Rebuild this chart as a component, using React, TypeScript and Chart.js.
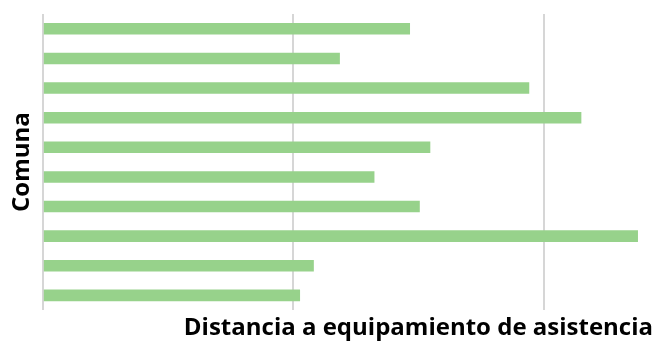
import React, { useEffect, useRef } from "react";
import { Chart, registerables } from "chart.js";

Chart.register(...registerables);

const categories = ["1", "2", "3", "4", "5", "6", "7", "8", "9", "10"];
const distances = [1.466, 1.186, 1.942, 2.15, 1.547, 1.324, 1.505, 2.376, 1.082, 1.027];
const xTitle = "Distancia a equipamiento de asistencia";
const yTitle = "Comuna";

export default function App() {
  const ref = useRef<HTMLCanvasElement>(null);
  useEffect(() => {
    document.body.style.margin = "0";
    const chart = new Chart(ref.current!, {
      type: "bar",
      data: {
        labels: categories,
        datasets: [
          {
            data: distances,
            backgroundColor: "#97d28b",
            borderWidth: 0,
            barPercentage: 0.39,
            categoryPercentage: 1,
          },
        ],
      },
      options: {
        indexAxis: "y",
        animation: false,
        responsive: false,
        maintainAspectRatio: false,
        layout: { padding: { left: 8, right: 2, top: 14, bottom: 0 } },
        plugins: { legend: { display: false }, tooltip: { enabled: false } },
        scales: {
          x: {
            min: 0,
            max: 2.436,
            ticks: { display: false, stepSize: 1 },
            grid: {
              color: (ctx: any) =>
                ctx.tick && Number.isInteger(ctx.tick.value) ? "#d6d6d6" : "rgba(0,0,0,0)",
              lineWidth: 2,
              drawTicks: false,
            },
            border: { display: false },
            title: {
              display: true,
              text: xTitle,
              align: "end",
              color: "#000",
              font: { family: "Open Sans", weight: "bold", size: 24 },
              padding: { top: 4, bottom: 0 },
            },
          },
          y: {
            ticks: { display: false },
            grid: { display: false, drawTicks: false },
            border: { display: false },
            title: {
              display: true,
              text: yTitle,
              color: "#000",
              font: { family: "Open Sans", weight: "bold", size: 24 },
              padding: { top: 0, bottom: 6 },
            },
          },
        },
      },
    });
    return () => chart.destroy();
  }, []);
  return (
    <div style={{ width: 655, height: 343, background: "#fff" }}>
      <canvas ref={ref} width={655} height={343} style={{ display: "block" }} />
    </div>
  );
}
